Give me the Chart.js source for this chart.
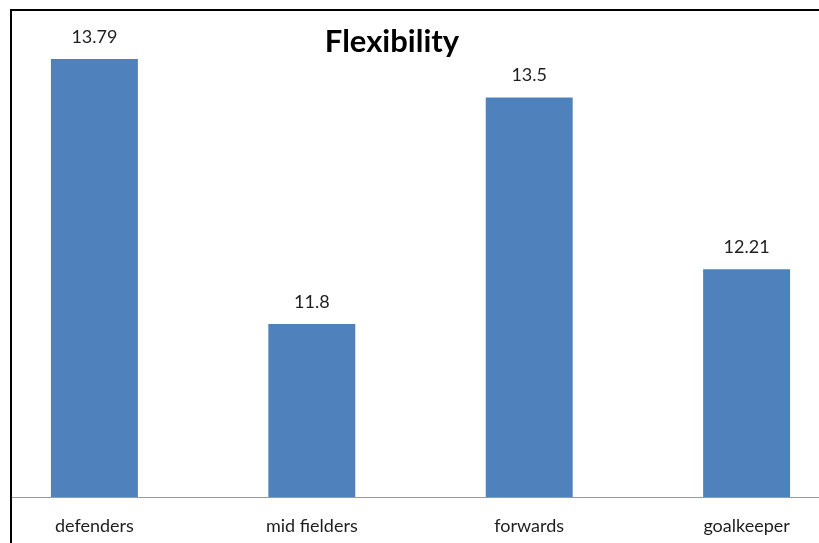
<!DOCTYPE html>
<html>
<head>
  <meta charset="UTF-8">
  <title>Flexibility</title>
  <script src="https://cdn.jsdelivr.net/npm/chart.js"></script>
  <style>
    html, body { margin: 0; padding: 0; background: #fff; overflow: hidden; }
    #wrap { position: relative; width: 819px; height: 543px; overflow: hidden; }
    /* chart frame, only top and left edges fall inside the page */
    #frame { position: absolute; left: 10px; top: 9px; width: 900px; height: 600px;
             border-left: 2px solid #000; border-top: 2px solid #000; pointer-events: none; }
  </style>
</head>
<body>
  <div id="wrap">
    <canvas id="flexChart" width="819" height="543"></canvas>
    <div id="frame"></div>
  </div>

  <script>
    // Flexibility scores by playing position
    const categories = ['defenders', 'mid fielders', 'forwards', 'goalkeeper'];
    const flexValues = [13.79, 11.8, 13.5, 12.21];
    const chartTitle = 'Flexibility';

    const FONT = 'Lato, "Liberation Sans", sans-serif';

    // value labels above each bar + the title
    const labelPlugin = {
      id: 'barLabels',
      afterDatasetsDraw(chart) {
        const ctx = chart.ctx;
        const meta = chart.getDatasetMeta(0);
        ctx.save();
        ctx.fillStyle = '#1e1e1e';
        ctx.font = '18px ' + FONT;
        ctx.textAlign = 'center';
        ctx.textBaseline = 'middle';
        meta.data.forEach((bar, i) => {
          ctx.fillText(String(flexValues[i]), bar.x, bar.y - 22);
        });
        ctx.font = 'bold 31px ' + FONT;
        ctx.fillStyle = '#000';
        ctx.textBaseline = 'alphabetic';
        ctx.fillText(chartTitle, 392, 52);
        ctx.restore();
      }
    };

    const ctx = document.getElementById('flexChart').getContext('2d');
    new Chart(ctx, {
      type: 'bar',
      data: {
        datasets: [{
          data: flexValues.map((v, i) => ({ x: i, y: v })),
          backgroundColor: '#4f81bd',
          borderWidth: 0,
          barPercentage: 0.4,
          categoryPercentage: 1
        }]
      },
      options: {
        responsive: false,
        animation: false,
        devicePixelRatio: 1,
        layout: { padding: { top: 31, left: 12, right: 0, bottom: 0 } },
        plugins: { legend: { display: false }, tooltip: { enabled: false }, title: { display: false } },
        scales: {
          x: {
            type: 'linear',
            offset: false,
            min: -0.379,
            max: 3.333,
            grid: { display: false, drawTicks: false, offset: false },
            border: { display: true, color: '#9a9a9a', width: 1 },
            afterFit(scale) { scale.height = 46; },
            ticks: {
              stepSize: 1,
              includeBounds: false,
              autoSkip: false,
              maxRotation: 0,
              padding: 18,
              color: '#1e1e1e',
              font: { family: FONT, size: 18 },
              callback: v => Number.isInteger(v) && categories[v] !== undefined ? categories[v] : ''
            }
          },
          y: {
            display: false,
            min: 10.5,
            max: 14
          }
        }
      },
      plugins: [labelPlugin]
    });
  </script>
</body>
</html>
